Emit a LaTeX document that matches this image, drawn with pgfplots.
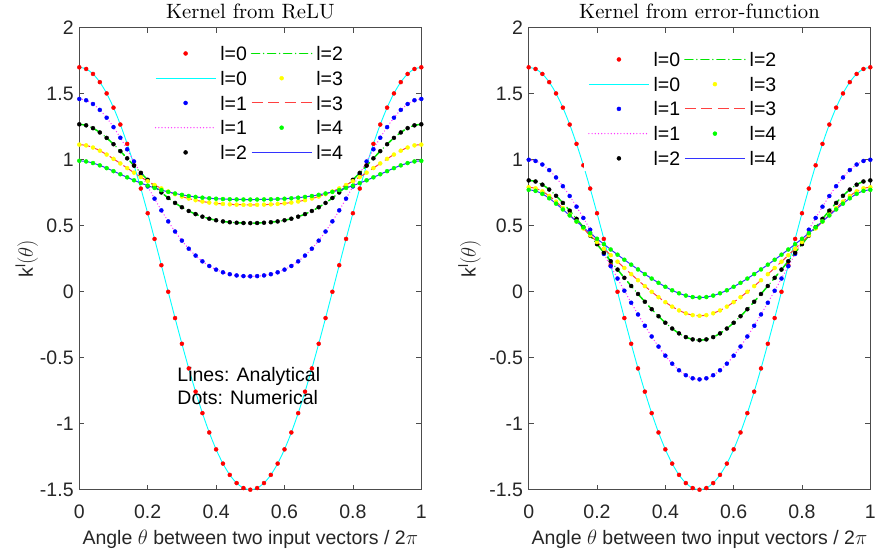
\documentclass[border=0pt]{standalone}
\usepackage{fontspec}
\setsansfont{Liberation Sans}
\renewcommand{\familydefault}{\sfdefault}
\usepackage{graphicx}
\usepackage{pgfplots}
\usepackage{pgfplotstable}
\pgfplotsset{compat=1.18}

\definecolor{mred}{rgb}{1,0,0}
\definecolor{mcyan}{rgb}{0,1,1}
\definecolor{mblue}{rgb}{0,0,1}
\definecolor{mmag}{rgb}{1,0,1}
\definecolor{mgreen}{rgb}{0,1,0}
\definecolor{lgreen}{rgb}{0,0.9,0}
\definecolor{myellow}{rgb}{1,1,0}
\definecolor{mblack}{rgb}{0,0,0}
\definecolor{axgray}{rgb}{0.3,0.3,0.3}
\definecolor{txgray}{rgb}{0.15,0.15,0.15}

\pgfplotstableread{
t k0 k1 k2 k3 k4
0.00 1.7000 1.4600 1.2680 1.1144 0.9915
0.02 1.6874 1.4502 1.2603 1.1084 0.9868
0.04 1.6497 1.4219 1.2390 1.0922 0.9745
0.06 1.5877 1.3771 1.2064 1.0684 0.9570
0.08 1.5021 1.3180 1.1651 1.0391 0.9360
0.10 1.3944 1.2469 1.1172 1.0064 0.9132
0.12 1.2664 1.1664 1.0650 0.9717 0.8897
0.14 1.1199 1.0787 1.0104 0.9365 0.8664
0.16 0.9573 0.9865 0.9550 0.9018 0.8440
0.18 0.7813 0.8920 0.9004 0.8686 0.8229
0.20 0.5944 0.7974 0.8477 0.8373 0.8034
0.22 0.3998 0.7049 0.7980 0.8084 0.7858
0.24 0.2005 0.6161 0.7519 0.7823 0.7700
0.26 -0.0005 0.5327 0.7099 0.7589 0.7562
0.28 -0.1998 0.4560 0.6725 0.7385 0.7441
0.30 -0.3944 0.3868 0.6397 0.7208 0.7339
0.32 -0.5813 0.3260 0.6115 0.7058 0.7252
0.34 -0.7573 0.2737 0.5878 0.6934 0.7181
0.36 -0.9199 0.2300 0.5684 0.6833 0.7123
0.38 -1.0664 0.1947 0.5530 0.6753 0.7078
0.40 -1.1944 0.1672 0.5411 0.6692 0.7044
0.42 -1.3021 0.1468 0.5324 0.6648 0.7019
0.44 -1.3877 0.1325 0.5263 0.6617 0.7001
0.46 -1.4497 0.1232 0.5224 0.6597 0.6990
0.48 -1.4874 0.1182 0.5203 0.6586 0.6984
0.50 -1.5000 0.1166 0.5196 0.6583 0.6982
0.52 -1.4874 0.1182 0.5203 0.6586 0.6984
0.54 -1.4497 0.1232 0.5224 0.6597 0.6990
0.56 -1.3877 0.1325 0.5263 0.6617 0.7001
0.58 -1.3021 0.1468 0.5324 0.6648 0.7019
0.60 -1.1944 0.1672 0.5411 0.6692 0.7044
0.62 -1.0664 0.1947 0.5530 0.6753 0.7078
0.64 -0.9199 0.2300 0.5684 0.6833 0.7123
0.66 -0.7573 0.2737 0.5878 0.6934 0.7181
0.68 -0.5813 0.3260 0.6115 0.7058 0.7252
0.70 -0.3944 0.3868 0.6397 0.7208 0.7339
0.72 -0.1998 0.4560 0.6725 0.7385 0.7441
0.74 -0.0005 0.5327 0.7099 0.7589 0.7562
0.76 0.2005 0.6161 0.7519 0.7823 0.7700
0.78 0.3998 0.7049 0.7980 0.8084 0.7858
0.80 0.5944 0.7974 0.8477 0.8373 0.8034
0.82 0.7813 0.8920 0.9004 0.8686 0.8229
0.84 0.9573 0.9865 0.9550 0.9018 0.8440
0.86 1.1199 1.0787 1.0104 0.9365 0.8664
0.88 1.2664 1.1664 1.0650 0.9717 0.8897
0.90 1.3944 1.2469 1.1172 1.0064 0.9132
0.92 1.5021 1.3180 1.1651 1.0391 0.9360
0.94 1.5877 1.3771 1.2064 1.0684 0.9570
0.96 1.6497 1.4219 1.2390 1.0922 0.9745
0.98 1.6874 1.4502 1.2603 1.1084 0.9868
1.00 1.7000 1.4600 1.2680 1.1144 0.9915
}\relu

\pgfplotstableread{
t k0 k1 k2 k3 k4
0.00 1.7000 0.9995 0.8432 0.7913 0.7718
0.02 1.6874 0.9904 0.8349 0.7832 0.7638
0.04 1.6497 0.9636 0.8109 0.7602 0.7412
0.06 1.5877 0.9212 0.7738 0.7254 0.7076
0.08 1.5021 0.8655 0.7267 0.6823 0.6671
0.10 1.3944 0.7993 0.6726 0.6342 0.6230
0.12 1.2664 0.7248 0.6138 0.5834 0.5775
0.14 1.1199 0.6440 0.5521 0.5315 0.5321
0.16 0.9573 0.5586 0.4888 0.4794 0.4874
0.18 0.7813 0.4698 0.4246 0.4276 0.4438
0.20 0.5944 0.3787 0.3600 0.3764 0.4013
0.22 0.3998 0.2861 0.2956 0.3260 0.3600
0.24 0.2005 0.1929 0.2314 0.2764 0.3197
0.26 -0.0005 0.0998 0.1678 0.2276 0.2805
0.28 -0.1998 0.0074 0.1050 0.1797 0.2422
0.30 -0.3944 -0.0836 0.0432 0.1328 0.2049
0.32 -0.5813 -0.1724 -0.0173 0.0869 0.1686
0.34 -0.7573 -0.2580 -0.0761 0.0423 0.1333
0.36 -0.9199 -0.3394 -0.1326 -0.0007 0.0995
0.38 -1.0664 -0.4154 -0.1859 -0.0415 0.0673
0.40 -1.1944 -0.4846 -0.2352 -0.0793 0.0374
0.42 -1.3021 -0.5452 -0.2790 -0.1131 0.0107
0.44 -1.3877 -0.5952 -0.3158 -0.1417 -0.0120
0.46 -1.4497 -0.6328 -0.3438 -0.1636 -0.0294
0.48 -1.4874 -0.6562 -0.3614 -0.1775 -0.0405
0.50 -1.5000 -0.6642 -0.3674 -0.1822 -0.0442
0.52 -1.4874 -0.6562 -0.3614 -0.1775 -0.0405
0.54 -1.4497 -0.6328 -0.3438 -0.1636 -0.0294
0.56 -1.3877 -0.5952 -0.3158 -0.1417 -0.0120
0.58 -1.3021 -0.5452 -0.2790 -0.1131 0.0107
0.60 -1.1944 -0.4846 -0.2352 -0.0793 0.0374
0.62 -1.0664 -0.4154 -0.1859 -0.0415 0.0673
0.64 -0.9199 -0.3394 -0.1326 -0.0007 0.0995
0.66 -0.7573 -0.2580 -0.0761 0.0423 0.1333
0.68 -0.5813 -0.1724 -0.0173 0.0869 0.1686
0.70 -0.3944 -0.0836 0.0432 0.1328 0.2049
0.72 -0.1998 0.0074 0.1050 0.1797 0.2422
0.74 -0.0005 0.0998 0.1678 0.2276 0.2805
0.76 0.2005 0.1929 0.2314 0.2764 0.3197
0.78 0.3998 0.2861 0.2956 0.3260 0.3600
0.80 0.5944 0.3787 0.3600 0.3764 0.4013
0.82 0.7813 0.4698 0.4246 0.4276 0.4438
0.84 0.9573 0.5586 0.4888 0.4794 0.4874
0.86 1.1199 0.6440 0.5521 0.5315 0.5321
0.88 1.2664 0.7248 0.6138 0.5834 0.5775
0.90 1.3944 0.7993 0.6726 0.6342 0.6230
0.92 1.5021 0.8655 0.7267 0.6823 0.6671
0.94 1.5877 0.9212 0.7738 0.7254 0.7076
0.96 1.6497 0.9636 0.8109 0.7602 0.7412
0.98 1.6874 0.9904 0.8349 0.7832 0.7638
1.00 1.7000 0.9995 0.8432 0.7913 0.7718
}\erfk

\pgfplotsset{
  kax/.style={
    scale only axis, height=462pt,
    xmin=0, xmax=1, ymin=-1.5, ymax=2,
    xtick={0,0.2,0.4,0.6,0.8,1},
    xticklabels={0,0.2,0.4,0.6,0.8,1},
    ytick={-1.5,-1,-0.5,0,0.5,1,1.5,2},
    yticklabels={-1.5,-1,-0.5,0,0.5,1,1.5,2},
    tick align=inside, major tick length=5pt,
    axis line style={axgray, line width=0.8pt},
    tick style={axgray, line width=0.8pt},
    tick label style={font=\fontsize{19.5}{23}\selectfont, text=txgray},
    xticklabel style={anchor=north, inner sep=0pt, yshift=-14.8pt},
    yticklabel style={anchor=east, inner sep=0pt, xshift=-5.5pt},
    label style={font=\fontsize{19.5}{23}\selectfont, text=txgray},
    xlabel style={at={(axis description cs:0.5,0)}, anchor=north, inner sep=0pt, yshift=-39.7pt},
    xlabel={Angle $\theta$ between two input vectors / 2$\pi$},
    ylabel={k\textsuperscript{l}$(\theta)$},
    legend columns=5, transpose legend,
    legend cell align=left,
    legend style={draw=none, fill=white, inner xsep=4pt, inner ysep=4pt,
      anchor=north west, row sep=6.6pt, column sep=2pt,
      nodes={inner sep=2pt, text depth=0pt},
      font=\fontsize{19.5}{23}\selectfont},
    legend image code/.code={
      \draw[mark repeat=2,mark phase=2] plot coordinates {(0pt,0pt) (30pt,0pt) (60pt,0pt)};
    },
  },
  dots/.style={only marks, mark=*, mark size=2pt, color=#1, mark options={draw=#1, fill=#1}},
  kzero/.style={draw=mcyan, line width=0.9pt, no marks, smooth},
  kone/.style={draw={rgb,1:red,1;green,0.2;blue,1}, line width=1.4pt, line cap=round, no marks, smooth, dash pattern=on 0pt off 3.2pt},
  ktwo/.style={color=lgreen, draw=lgreen, line width=1.5pt, line cap=round, no marks, smooth, dash pattern=on 8pt off 4pt on 0pt off 4pt},
  kthree/.style={draw={rgb,1:red,1;green,0.25;blue,0.25}, line width=1.0pt, no marks, smooth, dash pattern=on 11pt off 5.5pt},
  kfour/.style={draw={rgb,1:red,0.2;green,0.2;blue,1}, line width=1.0pt, no marks, smooth},
}

\newcommand{\ttl}[1]{\scalebox{2.07}{\rmfamily\fontsize{10}{12}\selectfont #1}}

\begin{document}
\begin{tikzpicture}
\useasboundingbox (0,0) rectangle (882pt,552pt);

\begin{axis}[kax, width=342pt, at={(79.3pt,62.3pt)}, anchor=south west,
  ylabel style={at={(axis description cs:-0.1202,0.5)}, anchor=south, inner sep=0pt},
  legend style={at={(0.2088,0.9729)}}]
\addplot[dots=mred] table[x=t,y=k0] {\relu};
\addplot[kzero] table[x=t,y=k0] {\relu};
\addplot[dots=mblue] table[x=t,y=k1] {\relu};
\addplot[kone] table[x=t,y=k1] {\relu};
\addplot[dots=mblack] table[x=t,y=k2] {\relu};
\addplot[ktwo] table[x=t,y=k2] {\relu};
\addplot[dots=myellow] table[x=t,y=k3] {\relu};
\addplot[kthree] table[x=t,y=k3] {\relu};
\addplot[dots=mgreen] table[x=t,y=k4] {\relu};
\addplot[kfour] table[x=t,y=k4] {\relu};
\legend{l=0,l=0,l=1,l=1,l=2,l=2,l=3,l=3,l=4,l=4}
\node[anchor=north west, inner sep=0pt, align=left,
  font=\fontsize{19.5}{23}\selectfont, text=black]
  at (axis cs:0.2865,-0.57) {Lines: Analytical\\Dots: Numerical};
\end{axis}

\begin{axis}[kax, width=341.6pt, at={(528.7pt,62.3pt)}, anchor=south west,
  ylabel style={at={(axis description cs:-0.1399,0.5)}, anchor=south, inner sep=0pt},
  legend style={at={(0.1619,0.960)}}]
\addplot[dots=mred] table[x=t,y=k0] {\erfk};
\addplot[kzero] table[x=t,y=k0] {\erfk};
\addplot[dots=mblue] table[x=t,y=k1] {\erfk};
\addplot[kone] table[x=t,y=k1] {\erfk};
\addplot[dots=mblack] table[x=t,y=k2] {\erfk};
\addplot[ktwo] table[x=t,y=k2] {\erfk};
\addplot[dots=myellow] table[x=t,y=k3] {\erfk};
\addplot[kthree] table[x=t,y=k3] {\erfk};
\addplot[dots=mgreen] table[x=t,y=k4] {\erfk};
\addplot[kfour] table[x=t,y=k4] {\erfk};
\legend{l=0,l=0,l=1,l=1,l=2,l=2,l=3,l=3,l=4,l=4}
\end{axis}

\node[anchor=base, inner sep=0pt] at (250.3pt,533.7pt) {\ttl{Kernel from ReLU}};
\node[anchor=base, inner sep=0pt] at (699.5pt,533.7pt) {\ttl{Kernel from error-function}};
\end{tikzpicture}
\end{document}
